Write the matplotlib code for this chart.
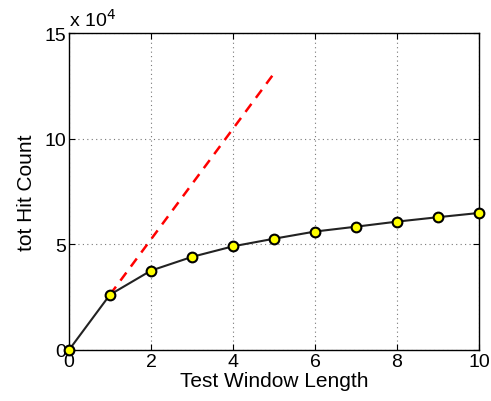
import matplotlib
matplotlib.use('Agg')
import matplotlib.pyplot as plt
from matplotlib.ticker import FuncFormatter

win_len = [0, 1, 2, 3, 4, 5, 6, 7, 8, 9, 10]
hit_count = [0, 26200, 37600, 44100, 49100, 52700, 56100, 58400, 60800, 62900, 64900]
lin_x = [1, 5]
lin_y = [26200, 131000]

plt.rcParams['font.family'] = ['Liberation Sans', 'DejaVu Sans']
plt.rcParams['font.size'] = 11

fig = plt.figure(figsize=(4.91, 4.02), dpi=100)
ax = fig.add_axes([0.1405, 0.1269, 0.8351, 0.7878])

ax.plot(lin_x, lin_y, '--', color='red', lw=1.8, dashes=(4, 3), zorder=2)
ax.plot(win_len, hit_count, '-', color='#222222', lw=1.5, marker='o', ms=7,
        mfc='yellow', mec='black', mew=1.5, zorder=3, clip_on=False)

ax.set_xlim(0, 10)
ax.set_ylim(0, 150000)
ax.set_xticks([0, 2, 4, 6, 8, 10])
ax.set_yticks([0, 50000, 100000, 150000])
ax.yaxis.set_major_formatter(FuncFormatter(lambda v, p: '%g' % (v / 1e4)))
ax.grid(True, linestyle=(0, (1, 3)), color='#777777', lw=0.8)
ax.tick_params(direction='in', top=True, right=True, length=4, labelsize=14, pad=2)
for s in ax.spines.values():
    s.set_linewidth(1.0)

ax.set_xlabel('Test Window Length', fontsize=15, labelpad=1)
ax.set_ylabel('tot Hit Count', fontsize=15, labelpad=6)
ax.text(0.0, 1.01, r'x 10$^4$', transform=ax.transAxes, fontsize=14, va='bottom', ha='left')

fig.savefig('out.png', dpi=100)
